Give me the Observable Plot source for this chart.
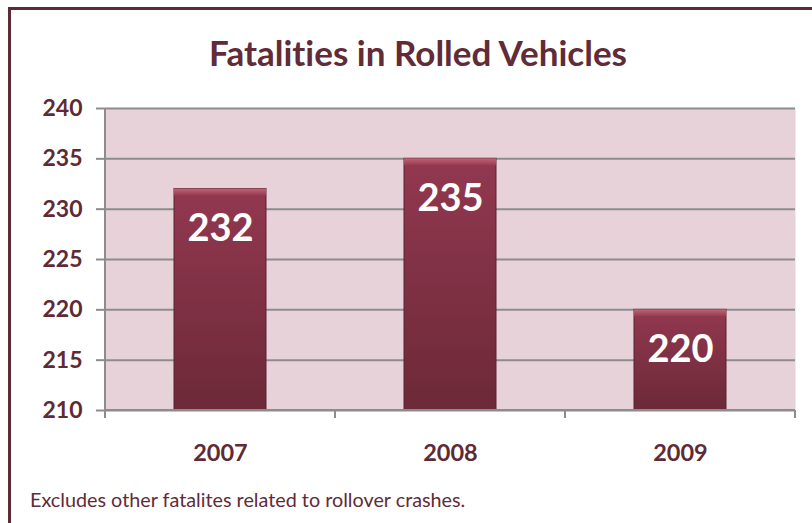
<!DOCTYPE html>
<html>
<head>
<meta charset="utf-8">
<script src="https://cdn.jsdelivr.net/npm/d3@7"></script>
<script src="https://cdn.jsdelivr.net/npm/@observablehq/plot@0.6"></script>
<style>
  html, body { margin: 0; padding: 0; background: #fff; overflow: hidden; }
  #wrap { position: relative; width: 812px; height: 523px; overflow: hidden; font-family: Lato, "Open Sans", sans-serif; font-variant-ligatures: none; }
  #border { position: absolute; left: 8px; top: 7px; width: 900px; height: 600px; border: 3px solid #5e2a36; box-sizing: border-box; }
  #title { position: absolute; left: 0; width: 836px; top: 31px; text-align: center; font-weight: bold; font-size: 35px; color: #612b38; }
  #caption { position: absolute; left: 30px; top: 487px; font-size: 19.8px; color: #612b38; }
  #chart { position: absolute; left: 0; top: 0; }
</style>
</head>
<body>
<div id="wrap">
  <div id="border"></div>
  <div id="chart"></div>
  <div id="title">Fatalities in Rolled Vehicles</div>
  <div id="caption">Excludes other fatalites related to rollover crashes.</div>
</div>
<script>
const years = ["2007", "2008", "2009"];
const fatalities = [232, 235, 220];
const yTicks = [210, 215, 220, 225, 230, 235, 240];
const yMin = 210, yMax = 240;

const data = years.map((y, i) => ({year: y, value: fatalities[i], base: yMin}));

const ink = "#5e2a36";
const plot = Plot.plot({
  width: 812,
  height: 523,
  marginLeft: 105,
  marginRight: 17,
  marginTop: 108,
  marginBottom: 113,
  style: {fontFamily: "Lato, 'Open Sans', sans-serif", background: "transparent", fontVariantLigatures: "none"},
  x: {domain: years, paddingInner: 0.6, paddingOuter: 0.3, label: null},
  y: {domain: [yMin, yMax], label: null},
  marks: [
    Plot.frame({fill: "#e8d2d9", stroke: null}),
    Plot.ruleY(yTicks, {stroke: "#8c8c8c", strokeWidth: 2}),
    Plot.axisY({ticks: yTicks, tickSize: 9, tickPadding: 14, fontSize: 23, fontWeight: "bold", fill: ink, stroke: "#8c8c8c", strokeWidth: 2}),
    Plot.axisX({tickSize: 0, tickPadding: 34, fontSize: 23.5, fontWeight: "bold", fill: ink}),
    Plot.barY(data, {x: "year", y1: "base", y2: "value", fill: "url(#barGrad)", stroke: "#5a2230", strokeWidth: 1}),
    Plot.barY(data, {x: "year", y1: "value", y2: "value", insetBottom: -7, fill: "url(#bevelGrad)"}),
    Plot.text(data, {x: "year", y: "value", text: d => String(d.value), dy: 40, fill: "white", fontSize: 38, fontWeight: "bold"})
  ]
});

// gradient definitions
const svg = d3.select(plot);
const defs = svg.insert("defs", ":first-child");
const g1 = defs.append("linearGradient").attr("id", "barGrad").attr("x1", 0).attr("y1", 0).attr("x2", 0).attr("y2", 1);
g1.append("stop").attr("offset", "0%").attr("stop-color", "#923850");
g1.append("stop").attr("offset", "100%").attr("stop-color", "#6c2938");
const g2 = defs.append("linearGradient").attr("id", "bevelGrad").attr("x1", 0).attr("y1", 0).attr("x2", 0).attr("y2", 1);
g2.append("stop").attr("offset", "0%").attr("stop-color", "#c06478");
g2.append("stop").attr("offset", "100%").attr("stop-color", "#963a52");

// vertical axis line and category boundary ticks from the scales
const xs = plot.scale("x"), ys = plot.scale("y");
const yScale = d3.scaleLinear().domain(ys.domain).range(ys.range);
const xScale = d3.scaleBand().domain(xs.domain).range(xs.range).paddingInner(xs.paddingInner ?? 0.6).paddingOuter(xs.paddingOuter ?? 0.3);
const yBottom = yScale(yMin), yTop = yScale(yMax);
const gap = (xScale.step() - xScale.bandwidth()) / 2;
const bounds = years.map(y => xScale(y) - gap).concat([xScale(years[years.length - 1]) + xScale.bandwidth() + gap]);
const over = svg.append("g").attr("stroke", "#8c8c8c").attr("stroke-width", 2);
over.append("line").attr("x1", bounds[0]).attr("x2", bounds[0]).attr("y1", yTop).attr("y2", yBottom);
over.append("line").attr("x1", bounds[0]).attr("x2", bounds[bounds.length-1]).attr("y1", yBottom).attr("y2", yBottom);
bounds.forEach(b => over.append("line").attr("x1", b).attr("x2", b).attr("y1", yBottom).attr("y2", yBottom + 8));

document.getElementById("chart").appendChild(plot);
</script>
</body>
</html>
